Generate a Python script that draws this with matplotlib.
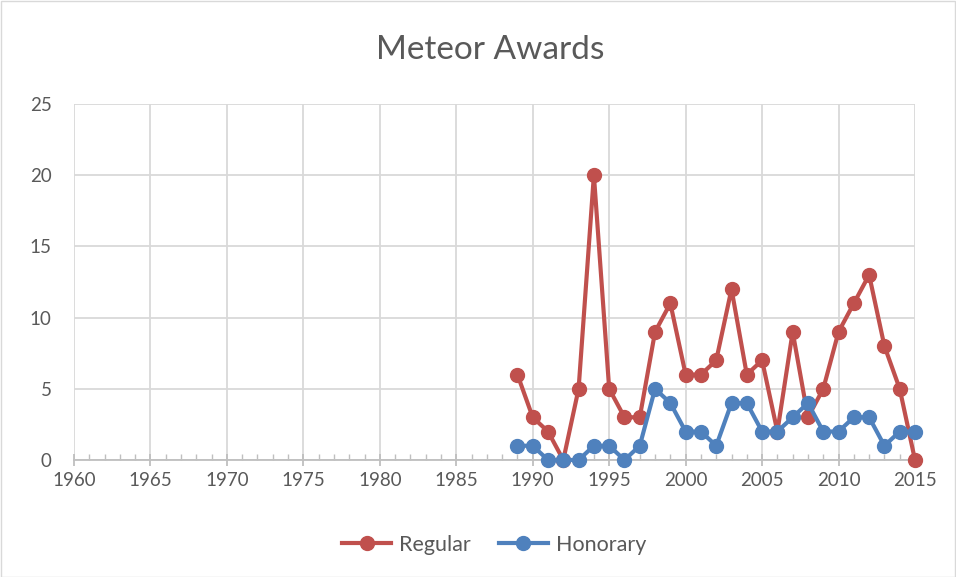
import matplotlib
matplotlib.use("Agg")
import matplotlib.pyplot as plt
from matplotlib.ticker import MultipleLocator
from matplotlib.patches import Rectangle

years = list(range(1989, 2016))
regular = [6, 3, 2, 0, 5, 20, 5, 3, 3, 9, 11, 6, 6, 7, 12, 6, 7, 2, 9, 3, 5, 9, 11, 13, 8, 5, 0]
honorary = [1, 1, 0, 0, 0, 1, 1, 0, 1, 5, 4, 2, 2, 1, 4, 4, 2, 2, 3, 4, 2, 2, 3, 3, 1, 2, 2]
xticks = list(range(1960, 2016, 5))
yticks = [0, 5, 10, 15, 20, 25]

plt.rcParams['font.family'] = ['Lato', 'DejaVu Sans']
txt = '#595959'
grid = '#d9d9d9'

fig = plt.figure(figsize=(9.56, 5.77), dpi=100)
ax = fig.add_axes([74/956, 1-460/577, (915-74)/956, (460-104)/577])

ax.plot(years, regular, color='#C0504D', lw=3, marker='o', ms=10, label='Regular', zorder=3, clip_on=False)
ax.plot(years, honorary, color='#4F81BD', lw=3, marker='o', ms=10, label='Honorary', zorder=3, clip_on=False)

ax.set_xlim(1960, 2015)
ax.set_ylim(0, 25)
ax.set_xticks(xticks)
ax.set_yticks(yticks)
ax.xaxis.set_minor_locator(MultipleLocator(1))
ax.grid(True, which='major', color=grid, lw=1.3, zorder=0)
for s in ['top', 'right', 'left']:
    ax.spines[s].set_visible(False)
ax.spines['bottom'].set_color('#bfbfbf')
ax.spines['bottom'].set_linewidth(1.3)
ax.tick_params(axis='x', which='major', direction='inout', length=8, color='#bfbfbf', width=1.3,
               labelsize=13.5, labelcolor=txt, pad=5)
ax.tick_params(axis='x', which='minor', direction='in', length=4, color='#bfbfbf', width=1)
ax.tick_params(axis='y', length=0, labelsize=13.5, labelcolor=txt, pad=16)

fig.text(490/956, 1-50/577, 'Meteor Awards', ha='center', va='center', fontsize=24, color=txt)

leg = fig.legend(loc='center', bbox_to_anchor=(494/956, 1-545/577), ncol=2, frameon=False,
                 fontsize=15.5, labelcolor=txt, handlelength=2.3, columnspacing=1.3, handletextpad=0.35)

fig.patches.append(Rectangle((0.5/956, 0.5/577), 1-1.5/956, 1-1.5/577, transform=fig.transFigure,
                             fill=False, edgecolor=grid, lw=1))

fig.savefig('out.png', dpi=100)
